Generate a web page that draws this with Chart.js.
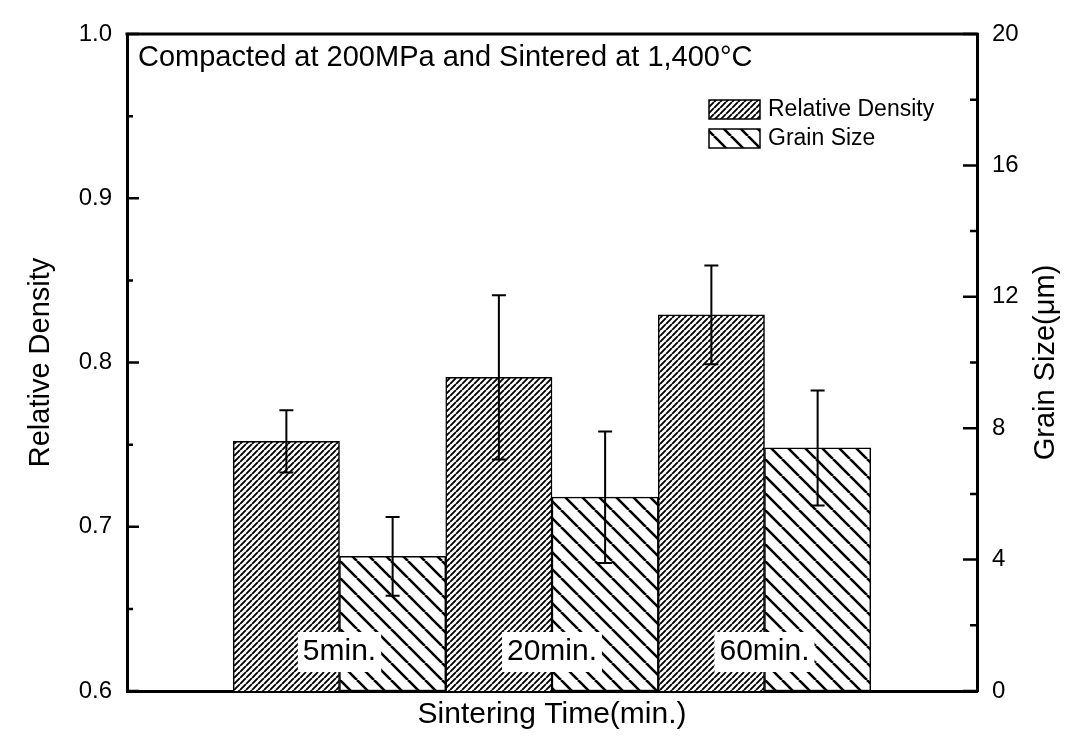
<!DOCTYPE html>
<html>
<head>
<meta charset="utf-8">
<title>Relative density and grain size vs sintering time</title>
<script src="https://cdn.jsdelivr.net/npm/chart.js@4.4.1/dist/chart.umd.min.js"></script>
<style>
  html, body { margin: 0; padding: 0; background: #fff; }
  #chart { display: block; }
</style>
</head>
<body>
<canvas id="chart" width="1089" height="738"></canvas>
<script>
// ---------- DATA ----------
const categories = ["5min.", "20min.", "60min."];
const densityValues = [0.752, 0.791, 0.829];
const densityErrors = [0.019, 0.05, 0.03];
const grainValues = [4.1, 5.9, 7.4];
const grainErrors = [1.2, 2.0, 1.75];

const densityTicks = [0.6, 0.7, 0.8, 0.9, 1.0];
const grainTicks = [0, 4, 8, 12, 16, 20];

const plotTitle = "Compacted at 200MPa and Sintered at 1,400°C";
const FONT = "'Liberation Sans', Arial, Helvetica, sans-serif";

// empty slots either side so the groups sit on the quarter marks of the axis
const pad = (arr) => [null, ...arr, null];
const labels = ["", ...categories, ""];

// ---------- HATCH PATTERNS ----------
function makeHatch(size, dir, lw) {
  const c = document.createElement("canvas");
  c.width = size;
  c.height = size;
  const g = c.getContext("2d");
  g.fillStyle = "#fff";
  g.fillRect(0, 0, size, size);
  g.strokeStyle = "#000";
  g.lineWidth = lw;
  g.beginPath();
  for (let k = -1; k <= 1; k++) {
    if (dir === "/") {
      g.moveTo(k * size, size);
      g.lineTo(k * size + size, 0);
    } else {
      g.moveTo(k * size, 0);
      g.lineTo(k * size + size, size);
    }
  }
  g.stroke();
  return g.createPattern(c, "repeat");
}

const ctx = document.getElementById("chart").getContext("2d");
const densityHatch = makeHatch(6, "/", 1.9);
const grainHatch = makeHatch(17, "\\", 2.6);

// ---------- PLUGINS ----------
const inTicksPlugin = {
  id: "inTicks",
  afterDatasetsDraw(chart) {
    const c = chart.ctx;
    const { top, left, right } = chart.chartArea;
    c.save();
    c.strokeStyle = "#000";
    c.lineWidth = 2.5;
    drawInTicks(c, chart.scales.y, 1, 12, 6);
    drawInTicks(c, chart.scales.y2, -1, 14, 7);
    // top frame line
    c.lineWidth = 3;
    c.beginPath();
    c.moveTo(left - 1.5, top);
    c.lineTo(right + 1.5, top);
    c.stroke();
    c.restore();
  },
};

function drawInTicks(c, scale, dir, major, minor) {
  const x0 = dir > 0 ? scale.right : scale.left;
  const ticks = scale.ticks;
  c.beginPath();
  ticks.forEach((t, i) => {
    const y = scale.getPixelForValue(t.value);
    c.moveTo(x0, y);
    c.lineTo(x0 + dir * major, y);
    if (i < ticks.length - 1) {
      const ym = scale.getPixelForValue((t.value + ticks[i + 1].value) / 2);
      c.moveTo(x0, ym);
      c.lineTo(x0 + dir * minor, ym);
    }
  });
  c.stroke();
}

const errorBarPlugin = {
  id: "errorBars",
  afterDatasetsDraw(chart) {
    const c = chart.ctx;
    c.save();
    c.strokeStyle = "#000";
    c.lineWidth = 2;
    chart.data.datasets.forEach((ds, i) => {
      const meta = chart.getDatasetMeta(i);
      const scale = chart.scales[meta.yAxisID];
      ds.data.forEach((v, j) => {
        const e = ds.errors[j];
        if (v === null || e === null) return;
        const x = meta.data[j].x;
        const yTop = scale.getPixelForValue(v + e);
        const yBot = scale.getPixelForValue(v - e);
        c.beginPath();
        c.moveTo(x, yTop);
        c.lineTo(x, yBot);
        c.moveTo(x - 7, yTop);
        c.lineTo(x + 7, yTop);
        c.moveTo(x - 7, yBot);
        c.lineTo(x + 7, yBot);
        c.stroke();
      });
    });
    c.restore();
  },
};

const annotationPlugin = {
  id: "annotations",
  afterDraw(chart) {
    const c = chart.ctx;
    const { top, bottom, left, right } = chart.chartArea;
    c.save();
    c.fillStyle = "#000";

    // caption inside the frame
    c.font = "29px " + FONT;
    c.textAlign = "left";
    c.textBaseline = "alphabetic";
    c.fillText(plotTitle, left + 11, top + 32);

    // category names inside the bars, on a white patch
    const xs = chart.scales.x;
    c.font = "30px " + FONT;
    c.textAlign = "center";
    c.textBaseline = "middle";
    chart.data.labels.forEach((lab, i) => {
      if (!lab) return;
      const x = xs.getPixelForValue(i);
      const w = c.measureText(lab).width + 10;
      c.fillStyle = "#fff";
      c.fillRect(x - w / 2, bottom - 59, w, 40);
      c.fillStyle = "#000";
      c.fillText(lab, x, bottom - 39);
    });

    // legend, top right inside the frame
    c.font = "23px " + FONT;
    c.textAlign = "left";
    const bx = right - 268;
    chart.data.datasets.forEach((ds, i) => {
      const by = top + 66 + i * 29;
      c.fillStyle = ds.backgroundColor;
      c.fillRect(bx, by, 51, 19);
      c.strokeStyle = "#000";
      c.lineWidth = 1.5;
      c.strokeRect(bx, by, 51, 19);
      c.fillStyle = "#000";
      c.fillText(ds.label, bx + 59, by + 10);
    });

    // right axis title, reading bottom to top
    const y2 = chart.scales.y2;
    c.font = "29px " + FONT;
    c.textAlign = "center";
    c.translate(1046, (y2.top + y2.bottom) / 2);
    c.rotate(-Math.PI / 2);
    c.fillText("Grain Size(μm)", 0, 0);
    c.restore();
  },
};

// ---------- CHART ----------
new Chart(ctx, {
  type: "bar",
  data: {
    labels: labels,
    datasets: [
      {
        label: "Relative Density",
        data: pad(densityValues),
        errors: pad(densityErrors),
        yAxisID: "y",
        backgroundColor: densityHatch,
        borderColor: "#000",
        borderWidth: 1.5,
        borderSkipped: false,
        categoryPercentage: 1,
        barPercentage: 1,
      },
      {
        label: "Grain Size",
        data: pad(grainValues),
        errors: pad(grainErrors),
        yAxisID: "y2",
        backgroundColor: grainHatch,
        borderColor: "#000",
        borderWidth: 1.5,
        borderSkipped: false,
        categoryPercentage: 1,
        barPercentage: 1,
      },
    ],
  },
  options: {
    responsive: false,
    devicePixelRatio: 1,
    animation: false,
    layout: { padding: { top: 34, left: 0, right: 0, bottom: 0 } },
    plugins: {
      legend: { display: false },
      tooltip: { enabled: false },
    },
    scales: {
      x: {
        offset: false,
        grid: { display: false, drawTicks: false },
        border: { display: true, color: "#000", width: 3 },
        ticks: { display: false },
        title: {
          display: true,
          text: "Sintering Time(min.)",
          color: "#000",
          font: { family: FONT, size: 30 },
          padding: { top: 0, bottom: 5 },
        },
        afterFit: (s) => { s.height = 47; },
      },
      y: {
        position: "left",
        min: densityTicks[0],
        max: densityTicks[densityTicks.length - 1],
        grid: { display: false, drawTicks: false },
        border: { display: true, color: "#000", width: 3 },
        ticks: {
          stepSize: densityTicks[1] - densityTicks[0],
          padding: 15,
          color: "#000",
          font: { family: FONT, size: 24 },
          callback: (v) => Number(v).toFixed(1),
        },
        title: {
          display: true,
          text: "Relative Density",
          color: "#000",
          font: { family: FONT, size: 29 },
          padding: { top: 24, bottom: 0 },
        },
        afterFit: (s) => { s.width = 127; },
      },
      y2: {
        position: "right",
        min: grainTicks[0],
        max: grainTicks[grainTicks.length - 1],
        grid: { display: false, drawTicks: false },
        border: { display: true, color: "#000", width: 3 },
        ticks: {
          stepSize: grainTicks[1] - grainTicks[0],
          padding: 15,
          color: "#000",
          font: { family: FONT, size: 24 },
        },
        afterFit: (s) => { s.width = 112; },
      },
    },
  },
  plugins: [inTicksPlugin, errorBarPlugin, annotationPlugin],
});
</script>
</body>
</html>
